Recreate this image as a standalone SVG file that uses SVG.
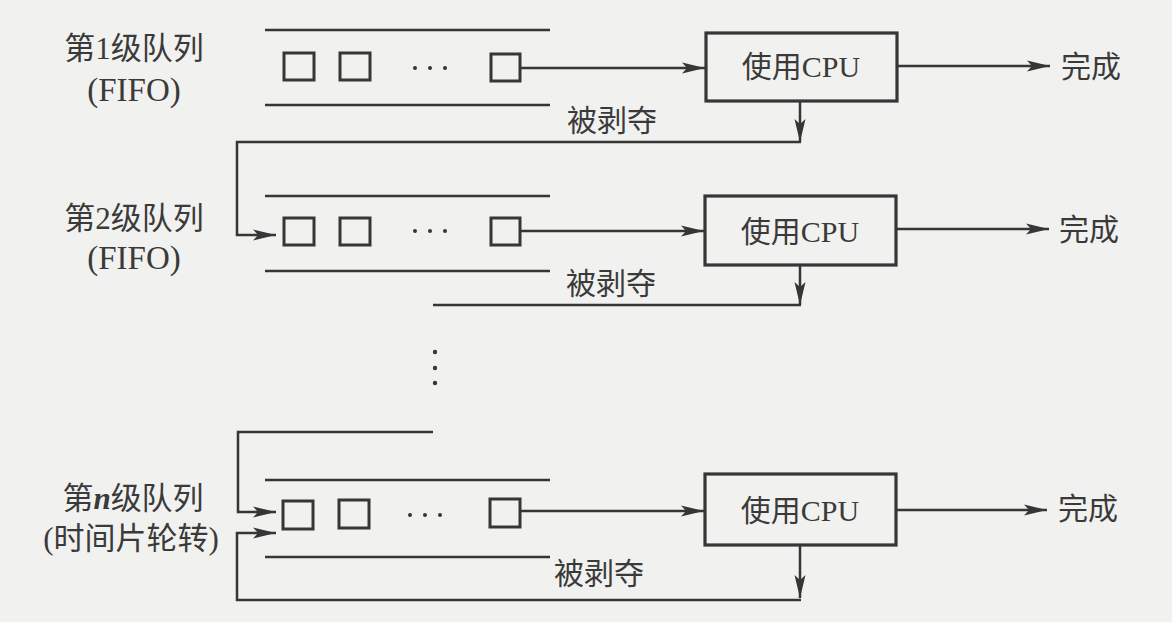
<svg xmlns="http://www.w3.org/2000/svg" width="1172" height="622" viewBox="0 0 1172 622">
  <style>
    .t { font-family: "Liberation Serif", "Noto Sans CJK SC", serif; font-size: 30px; fill: #3a3a3a; }
    .lb { font-size: 31px; }
    .ff { font-size: 33px; }
    .c { text-anchor: middle; }
    .ln { stroke: #363636; stroke-width: 2.5; fill: none; }
    .sq { stroke: #363636; stroke-width: 3; fill: none; }
    .box { stroke: #363636; stroke-width: 3.2; fill: none; }
    .dot { fill: #363636; }
  </style>
  <defs>
    <marker id="arr" markerUnits="userSpaceOnUse" markerWidth="24" markerHeight="12" refX="23" refY="6" orient="auto">
      <path d="M0,0.5 L23,6 L0,11.5 L5,6 z" fill="#363636"/>
    </marker>
  </defs>
  <rect x="0" y="0" width="1172" height="622" fill="#f1f1ef"/>

  <!-- Level 1 -->
  <g id="label1">
    <text class="t lb c" x="134" y="59">第1级队列</text>
    <text class="t ff c" x="134" y="101">(FIFO)</text>
  </g>
  <g id="queue1">
    <line class="ln" x1="265" y1="30" x2="550" y2="30"/>
    <line class="ln" x1="265" y1="105" x2="550" y2="105"/>
    <rect class="sq" x="284" y="53" width="30" height="27"/>
    <rect class="sq" x="340" y="53" width="30" height="27"/>
    <circle class="dot" cx="415" cy="68" r="2"/>
    <circle class="dot" cx="430" cy="68" r="2"/>
    <circle class="dot" cx="445" cy="68" r="2"/>
    <rect class="sq" x="491" y="54" width="29" height="27"/>
  </g>
  <g id="cpu1">
    <rect class="box" x="706" y="33" width="191" height="68"/>
    <text class="t c" x="801" y="77">使用CPU</text>
  </g>
  <g id="done1"><text class="t" x="1061" y="77">完成</text></g>
  <g id="preempt1"><text class="t" x="567" y="131">被剥夺</text></g>

  <!-- Level 2 -->
  <g id="label2">
    <text class="t lb c" x="134" y="229">第2级队列</text>
    <text class="t ff c" x="134" y="269">(FIFO)</text>
  </g>
  <g id="queue2">
    <line class="ln" x1="265" y1="196" x2="550" y2="196"/>
    <line class="ln" x1="265" y1="271" x2="550" y2="271"/>
    <rect class="sq" x="284" y="218" width="30" height="27"/>
    <rect class="sq" x="340" y="218" width="30" height="27"/>
    <circle class="dot" cx="415" cy="231" r="2"/>
    <circle class="dot" cx="430" cy="231" r="2"/>
    <circle class="dot" cx="445" cy="231" r="2"/>
    <rect class="sq" x="491" y="218" width="29" height="27"/>
  </g>
  <g id="cpu2">
    <rect class="box" x="705" y="196" width="191" height="69"/>
    <text class="t c" x="800" y="242">使用CPU</text>
  </g>
  <g id="done2"><text class="t" x="1059" y="240">完成</text></g>
  <g id="preempt2"><text class="t" x="566" y="294">被剥夺</text></g>

  <!-- vertical ellipsis -->
  <g id="vdots">
    <circle class="dot" cx="435" cy="352" r="2.2"/>
    <circle class="dot" cx="435" cy="368" r="2.2"/>
    <circle class="dot" cx="435" cy="383" r="2.2"/>
  </g>

  <!-- Level n -->
  <g id="labeln">
    <text class="t lb c" x="133" y="509">第<tspan font-style="italic" font-weight="bold">n</tspan>级队列</text>
    <text class="t lb c" x="131" y="549">(时间片轮转)</text>
  </g>
  <g id="queuen">
    <line class="ln" x1="265" y1="480" x2="550" y2="480"/>
    <line class="ln" x1="265" y1="557" x2="550" y2="557"/>
    <rect class="sq" x="283" y="501" width="30" height="28"/>
    <rect class="sq" x="339" y="500" width="30" height="28"/>
    <circle class="dot" cx="410" cy="515" r="2"/>
    <circle class="dot" cx="425" cy="515" r="2"/>
    <circle class="dot" cx="440" cy="515" r="2"/>
    <rect class="sq" x="490" y="499" width="30" height="28"/>
  </g>
  <g id="cpun">
    <rect class="box" x="705" y="474" width="191" height="71"/>
    <text class="t c" x="800" y="521">使用CPU</text>
  </g>
  <g id="donen"><text class="t" x="1058" y="519">完成</text></g>
  <g id="preemptn"><text class="t" x="554" y="584">被剥夺</text></g>

  <!-- Connectors -->
  <g id="connectors">
    <path class="ln" d="M520,68 H705" marker-end="url(#arr)"/>
    <path class="ln" d="M897,66 H1050" marker-end="url(#arr)"/>
    <path class="ln" d="M800,102 V142" marker-end="url(#arr)"/>
    <path class="ln" d="M801,142 H237 V235 H276" marker-end="url(#arr)"/>

    <path class="ln" d="M520,231 H704" marker-end="url(#arr)"/>
    <path class="ln" d="M896,229 H1049" marker-end="url(#arr)"/>
    <path class="ln" d="M800,265 V305" marker-end="url(#arr)"/>
    <path class="ln" d="M801,305 H433"/>

    <path class="ln" d="M433,432 H238 V512 H276" marker-end="url(#arr)"/>
    <path class="ln" d="M520,511 H704" marker-end="url(#arr)"/>
    <path class="ln" d="M896,510 H1047" marker-end="url(#arr)"/>
    <path class="ln" d="M800,545 V598" marker-end="url(#arr)"/>
    <path class="ln" d="M801,600 H237 V533 H276" marker-end="url(#arr)"/>
  </g>
</svg>
